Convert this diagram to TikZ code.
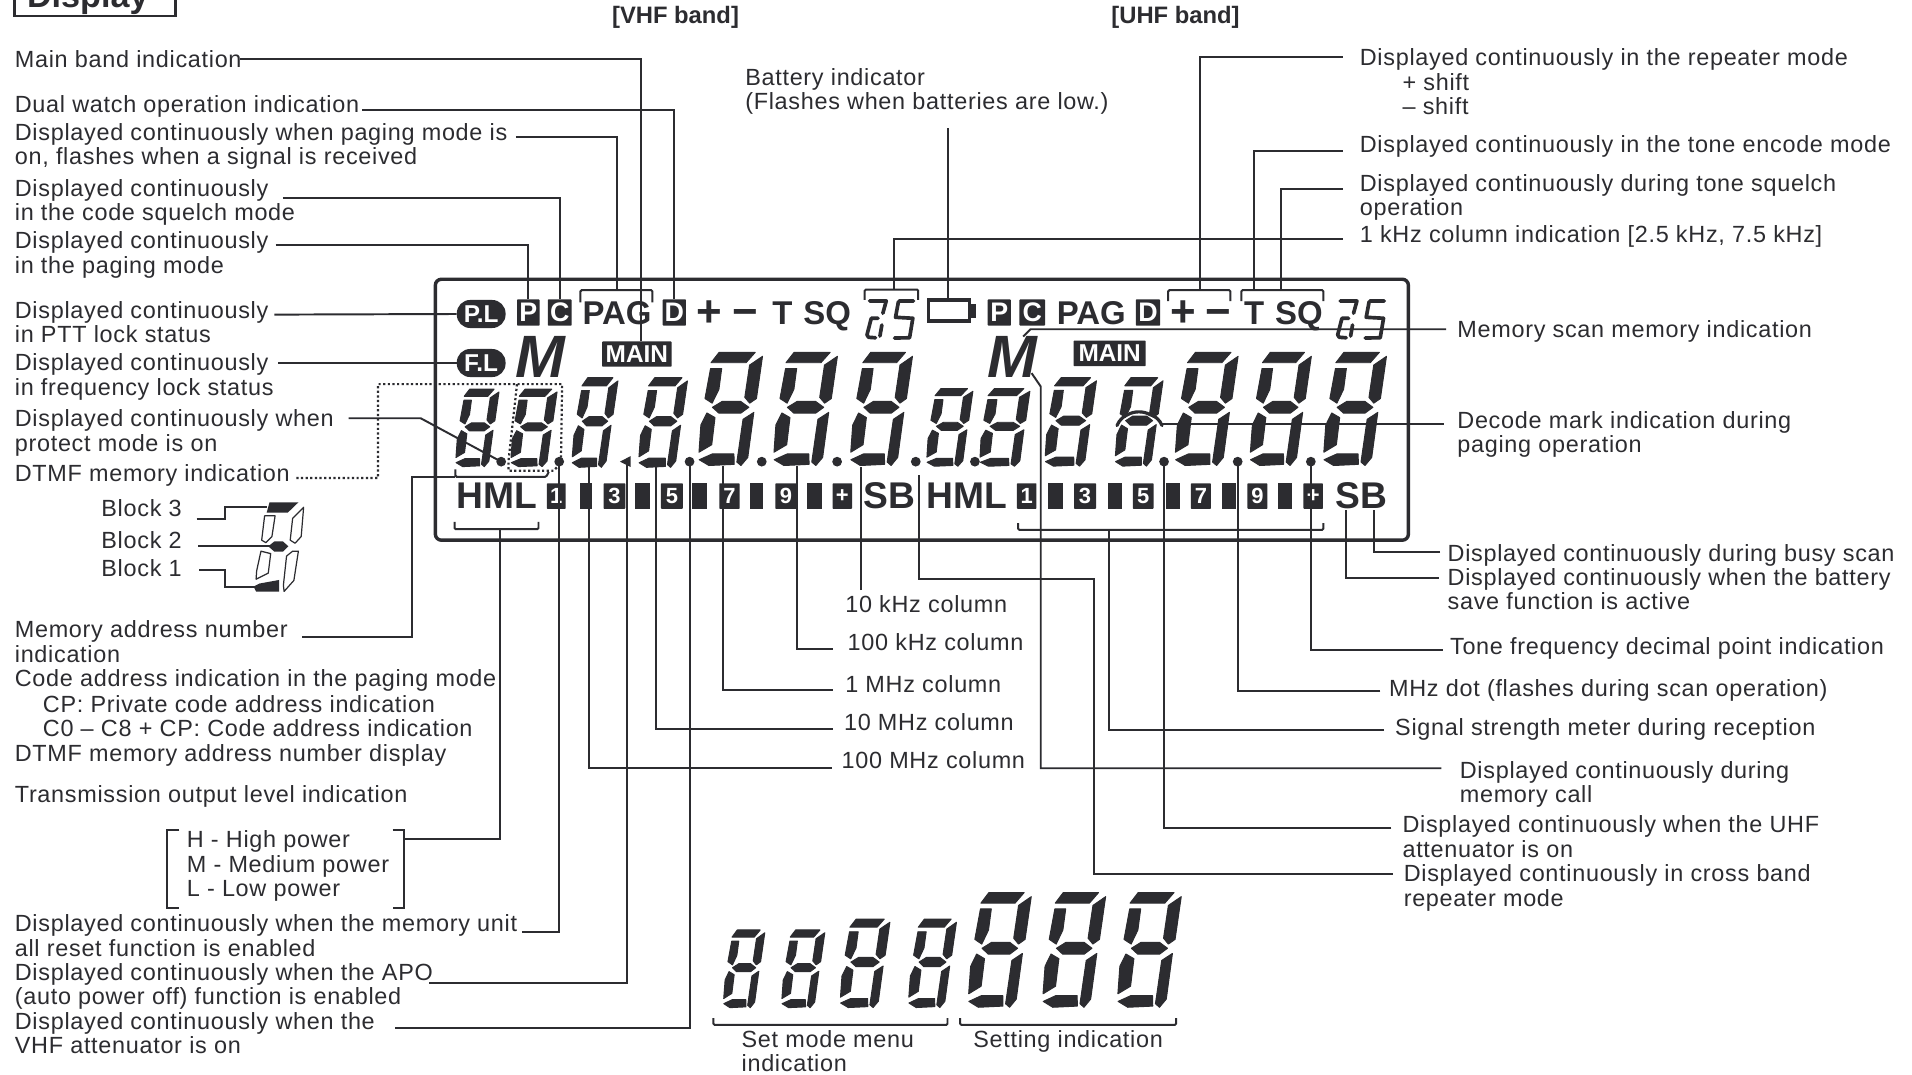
\documentclass[tikz,border=0pt]{standalone}
\usepackage{fontspec}
\setmainfont{Liberation Sans}[LetterSpace=3]
\newfontfamily\lcd[BoldFont={Liberation Sans Bold}]{Liberation Sans}
\newfontfamily\lcdm{Liberation Sans Bold Italic}
\definecolor{ink}{HTML}{2C2C30}
\newcommand\lblfont{\fontsize{19.2}{20}\selectfont}
\newcommand\lcdfont[1]{\lcd\bfseries\fontsize{#1}{#1}\selectfont}
\tikzset{
  lab/.style={anchor=north west,align=left,inner sep=0pt,yshift=7pt,font=\lblfont,text=ink},
  lead/.style={draw=ink,line width=1.6pt,line join=miter},
  brk/.style={draw=ink,line width=1.6pt,rounded corners=1pt},
  glyph/.style={inner sep=0pt,text=ink},
  row/.style={inner sep=0pt,text=ink,anchor=base},
  invbox/.style={fill=ink,text=white,inner sep=0pt,rounded corners=.6pt},
  blk/.style={fill=ink,draw=none},
}
% left, bottom, right, top
\newcommand\sevseg[4]{%
  \pgfmathsetmacro\dH{#2-#4}\pgfmathsetmacro\dS{.155*\dH}\pgfmathsetmacro\dW{#3-#1-\dS}%
  \begin{scope}[shift={(#1,#2)},x={(\dW pt,0pt)},y={(\dS pt,\dH pt)}]
    \filldraw[ink,line width=.8pt,line join=round]
      (.06,.99)--(.84,.99)--(.675,.90)--(-.08,.90)--cycle
      (1.01,.955)--(1.02,.59)--(.89,.55)--(.765,.6)--(.76,.88)--cycle
      (-.07,.85)--(.17,.85)--(.18,.67)--(.08,.55)--(-.09,.59)--cycle
      (.10,.514)--(.29,.565)--(.69,.565)--(.885,.514)--(.73,.463)--(.26,.463)--cycle
      (0,.465)--(.19,.425)--(.21,.19)--(-.04,.125)--(-.09,.36)--cycle
      (1.01,.47)--(.80,.41)--(.81,.04)--(.91,.01)--(1.03,.08)--cycle
      (-.01,.06)--(.25,.11)--(.72,.11)--(.76,.02)--(.22,.01)--cycle;
  \end{scope}}
% the 2.5 / 7.5 kHz glyph, x of left edge
\newcommand\twofive[1]{%
  \begin{scope}[shift={(#1,244.6)}]
    \draw[ink,line width=3pt,line join=round,line cap=round]
      (4.1,2.2)--(17.8,2.2)--(15,12.3)
      (5.5,16.4)--(11,16.4) (5.5,16.4)--(2,30)--(3.3,32)--(9,32.4) (14.2,21.9)--(12.6,31)
      (28.2,2.2)--(40.2,2.2) (27.8,2.7)--(25.4,15.6)--(39.6,16.4)--(36.9,32.4)--(24.6,32.6);
  \end{scope}}
\begin{document}
\begin{tikzpicture}[x=1pt,y=-1pt]
\useasboundingbox (0,0) rectangle (1568,881);
\fill[white] (0,0) rectangle (1568,881);

% ---- title
\draw[ink,line width=2pt] (12,-12) -- (12,13) -- (144,13) -- (144,-12);
\node[glyph,anchor=west,font=\lcdfont{28}] (title) at (22,-1) {Display};
\node[glyph,font=\lcdfont{19.5}] (vhf) at (554,14) {[VHF band]};
\node[glyph,font=\lcdfont{19.5}] (uhf) at (964,14) {[UHF band]};

% ---- LCD frame
\draw[ink,line width=2.8pt,rounded corners=5pt] (357,229) rectangle (1155,443);

% ---- digits
\sevseg{373.7}{383.3}{409.4}{318.5}
\sevseg{419}{383.3}{457}{318.5}
\sevseg{468.9}{384}{507}{309}
\sevseg{523.7}{384}{564}{309}
\sevseg{572.9}{382.7}{625.6}{288}
\sevseg{634.4}{382.7}{687}{288}
\sevseg{697.3}{382.7}{748.6}{288}
\sevseg{760}{383}{798}{318}
\sevseg{803.7}{383}{844.7}{318}
\sevseg{857}{383}{899.4}{309}
\sevseg{914.4}{383}{954}{309}
\sevseg{963.6}{382.7}{1015.6}{288}
\sevseg{1025}{382.7}{1075.7}{288}
\sevseg{1085.3}{382.7}{1137.3}{288}
% decimal points
\foreach \px in {411,458.6,565.5,624.7,686.5,751,799.5,954.6,1015,1075}
  \fill[ink] (\px,378.6) circle (4pt);
\fill[ink] (517.2,374) -- (517.2,383) -- (508.4,378.6) -- cycle;

% ---- top row VHF
\node[invbox,rounded corners=11pt,minimum width=40pt,minimum height=23pt,font=\lcdfont{20}] (pl) at (394.6,257.5) {P.L};
\node[invbox,rounded corners=11pt,minimum width=40pt,minimum height=23pt,font=\lcdfont{20}] (fl) at (394.6,297.7) {F.L};
\node[invbox,minimum width=18.5pt,minimum height=21.5pt,font=\lcdfont{22}] (p1) at (433.3,256.3) {P};
\node[invbox,minimum width=19.6pt,minimum height=21.5pt,font=\lcdfont{22}] (c1) at (459,256.3) {C};
\node[row,font=\lcdfont{27}] (pag1) at (506,266.5) {PAG};
\node[invbox,minimum width=19pt,minimum height=21.5pt,font=\lcdfont{22}] (d1) at (553,256.3) {D};
\node[row,font=\lcdfont{36}] (plus1) at (581.7,268) {+};
\node[row,font=\lcdfont{36}] (minus1) at (611,268) {−};
\node[row,font=\lcdfont{27}] (t1) at (641.7,266.5) {T};
\node[row,font=\lcdfont{27}] (sq1) at (678.3,266.5) {SQ};
\twofive{709}
\node[glyph,font=\lcdm\fontsize{49}{49}\selectfont,text height=35pt,text depth=0pt] (m1) at (443.5,292) {M};
\node[invbox,minimum width=57pt,minimum height=20.7pt,font=\lcdfont{20}] (main1) at (522.3,290.4) {MAIN};
% battery
\draw[ink,line width=3pt] (761.5,246.2) rectangle (795,263.5);
\fill[ink] (796.5,249) rectangle (800,260.5);

% ---- top row UHF
\node[invbox,minimum width=19pt,minimum height=21.5pt,font=\lcdfont{22}] (p2) at (819.5,256.3) {P};
\node[invbox,minimum width=21pt,minimum height=21.5pt,font=\lcdfont{22}] (c2) at (846.5,256.3) {C};
\node[row,font=\lcdfont{27}] (pag2) at (895,266.5) {PAG};
\node[invbox,minimum width=20pt,minimum height=21.5pt,font=\lcdfont{22}] (d2) at (941.4,256.3) {D};
\node[row,font=\lcdfont{36}] (plus2) at (970.2,268) {+};
\node[row,font=\lcdfont{36}] (minus2) at (999.5,268) {−};
\node[row,font=\lcdfont{27}] (t2) at (1028.5,266.5) {T};
\node[row,font=\lcdfont{27}] (sq2) at (1065.2,266.5) {SQ};
\twofive{1095}
\node[glyph,font=\lcdm\fontsize{49}{49}\selectfont,text height=35pt,text depth=0pt] (m2) at (830,292) {M};
\node[invbox,minimum width=59pt,minimum height=21pt,font=\lcdfont{20}] (main2) at (910,289.8) {MAIN};

% ---- bottom row VHF
\node[row,font=\lcdfont{30.5}] (hml1) at (407.5,417.3) {HML};
\foreach \n/\cx/\w/\t in {a/456.2/15.5/1,b/503.9/17.8/3,c/551/18/5,d/598.2/16.7/7,e/644.6/17.6/9,f/690.8/16/+}
  \node[invbox,minimum width=\w pt,minimum height=21pt,font=\lcdfont{18}] (lv\n) at (\cx,406.8) {\t};
\foreach \lx/\rx in {475.3/485.6,521/533,567.6/580,615.3/626,662/673.9}
  \fill[blk] (\lx,396.3) rectangle (\rx,417.2);
\node[row,font=\lcdfont{30.5}] (sb1) at (729.5,417.3) {SB};
% ---- bottom row UHF
\node[row,font=\lcdfont{30.5}] (hml2) at (793,417.3) {HML};
\foreach \n/\cx/\w/\t in {a/842/16/1,b/889.8/18/3,c/937.5/17/5,d/984.8/16.5/7,e/1031.2/16.4/9,f/1076.9/16/+}
  \node[invbox,minimum width=\w pt,minimum height=21pt,font=\lcdfont{18}] (lu\n) at (\cx,406.8) {\t};
\foreach \lx/\rx in {859.8/871.5,908.4/920,956/967.7,1002/1013.7,1048.4/1059.3}
  \fill[blk] (\lx,396.3) rectangle (\rx,417.2);
\node[row,font=\lcdfont{30.5}] (sb2) at (1116.5,417.3) {SB};

% ---- brackets in the LCD
\draw[brk] (476,248) |- (535,238) -- (535,248);
\draw[brk] (709,246) |- (753,237.5) -- (753,246);
\draw[brk] (958,247) |- (1009,238) -- (1009,247);
\draw[brk] (1018,247) |- (1085.3,238) -- (1085.3,247);
\draw[brk] (373.5,385) |- (448,391) -- (450,387);
\draw[brk] (372.8,428) |- (441.6,434) -- (441.6,428);
\draw[brk] (835,429) |- (1085.3,434.5) -- (1085.3,429);
% dotted box of the DTMF digit
\coordinate (dtmfS) at (243,392);
\draw[ink,line width=1.8pt,dotted] (dtmfS) -- (310,392) -- (310,315) -- (461,315) -- (460,380) -- (454,386) -- (417,386) -- (417,378) -- (424,315);
% decode mark
\draw[ink,line width=2.6pt,line cap=round] (916,349) .. controls (918,344) and (922,341) .. (925,340) .. controls (930,337) and (938,337) .. (943,340) .. controls (947,341) and (951,344) .. (953,349);

% ---- left labels
\node[lab] (lmain) at (12,48) {Main band indication};
\node[lab] (ldual) at (12,85.5) {Dual watch operation indication};
\node[lab] (lpag) at (12,108) {Displayed continuously when paging mode is\\on, flashes when a signal is received};
\node[lab] (lcode) at (12,154) {Displayed continuously\\in the code squelch mode};
\node[lab] (lpmode) at (12,197) {Displayed continuously\\in the paging mode};
\node[lab] (lptt) at (12,254) {Displayed continuously\\in PTT lock status};
\node[lab] (lfreq) at (12,297) {Displayed continuously\\in frequency lock status};
\node[lab] (lprot) at (12,343) {Displayed continuously when\\protect mode is on};
\node[lab] (ldtmf) at (12,388) {DTMF memory indication};
\node[lab] (lb3) at (83,416.5) {Block 3};
\node[lab] (lb2) at (83,442.5) {Block 2};
\node[lab] (lb1) at (83,465.5) {Block 1};
\node[lab] (lmem) at (12,516) {Memory address number\\indication};
\node[lab] (lcaddr) at (12,556) {Code address indication in the paging mode};
\node[lab] (lcp) at (35,577) {CP: Private code address indication};
\node[lab] (lc0) at (35,597) {C0 – C8 + CP: Code address indication};
\node[lab] (ldaddr) at (12,617) {DTMF memory address number display};
\node[lab] (ltx) at (12,651) {Transmission output level indication};
\node[lab] (lhml) at (153,688) {H - High power\\M - Medium power\\L - Low power};
\node[lab] (lreset) at (12,757) {Displayed continuously when the memory unit\\all reset function is enabled};
\node[lab] (lapo) at (12,797) {Displayed continuously when the APO\\(auto power off) function is enabled};
\node[lab] (lvatt) at (12,837) {Displayed continuously when the\\VHF attenuator is on};

% ---- centre labels
\node[lab] (lbat) at (611,63) {Battery indicator\\(Flashes when batteries are low.)};
\node[lab] (l10k) at (693,495) {10 kHz column};
\node[lab] (l100k) at (695,526) {100 kHz column};
\node[lab] (l1m) at (693,561) {1 MHz column};
\node[lab] (l10m) at (692,592) {10 MHz column};
\node[lab] (l100m) at (690,623) {100 MHz column};

% ---- right labels
\node[lab] (lrep) at (1115,47) {Displayed continuously in the repeater mode};
\node[lab] (lplus) at (1150,67) {+ shift};
\node[lab] (lminus) at (1150,87) {– shift};
\node[lab] (lenc) at (1115,118) {Displayed continuously in the tone encode mode};
\node[lab] (ltsq) at (1115,150) {Displayed continuously during tone squelch\\operation};
\node[lab] (l1k) at (1115,192) {1 kHz column indication [2.5 kHz, 7.5 kHz]};
\node[lab] (lscan) at (1195,270) {Memory scan memory indication};
\node[lab] (ldec) at (1195,344) {Decode mark indication during\\paging operation};
\node[lab] (lbusy) at (1187,453) {Displayed continuously during busy scan};
\node[lab] (lsave) at (1187,473) {Displayed continuously when the battery\\save function is active};
\node[lab] (ltone) at (1189,530) {Tone frequency decimal point indication};
\node[lab] (lmhz) at (1139,564) {MHz dot (flashes during scan operation)};
\node[lab] (lsig) at (1144,596) {Signal strength meter during reception};
\node[lab] (lcall) at (1197,631) {Displayed continuously during\\memory call};
\node[lab] (luatt) at (1150,676) {Displayed continuously when the UHF\\attenuator is on};
\node[lab] (lcross) at (1151,716) {Displayed continuously in cross band\\repeater mode};

% ---- bottom display
\sevseg{593.2}{827}{627.4}{762}
\sevseg{641}{827}{676.6}{762}
\sevseg{689}{827}{730}{753}
\sevseg{745}{827}{784.6}{753}
\sevseg{794}{827}{846}{731}
\sevseg{855}{827}{907}{731}
\sevseg{916.4}{827}{969}{731}
\draw[brk] (585,835) |- (777,840.5) -- (777,835);
\draw[brk] (787.4,835) |- (964.5,840.5) -- (964.5,835);
\node[lab] (lset) at (608,852) {Set mode menu\\indication};
\node[lab] (lsetting) at (798,852) {Setting indication};

% ---- block figure
\fill[ink] (221,412) -- (244.7,412) -- (236,420.4) -- (218.7,420.4) -- cycle;
\fill[ink] (220,448) -- (225,444) -- (232,444) -- (236.5,448) -- (232,452.4) -- (225,452.4) -- cycle;
\fill[ink] (208,481) -- (213,478.5) -- (229,475.6) -- (229,485.2) -- (210,485.2) -- cycle;
\draw[ink,line width=1pt,line join=round] (217,423) -- (225.6,423) -- (223,440) -- (218,445) -- (214.6,443) -- cycle
  (249,416) -- (247,440) -- (242,445.5) -- (238,443) -- (240,425) -- cycle
  (214,452) -- (222,454) -- (220,470) -- (210,475) -- (210.5,468) -- cycle
  (240,452) -- (244.7,452) -- (241,476) -- (233,485) -- (232.4,480) -- (235,456) -- cycle;
\coordinate (b3a) at (161.3,425.6);\coordinate (b3b) at (219,415.5);
\coordinate (b2a) at (162.7,447.7);\coordinate (b2b) at (221.5,447.7);
\coordinate (b1a) at (163.2,467.4);\coordinate (b1b) at (210.5,481);
\draw[lead] (b3a) -- (184.5,425.6) -- (184.5,415.5) -- (b3b);
\draw[lead] (b2a) -- (b2b);
\draw[lead] (b1a) -- (184.5,467.4) -- (184.5,481) -- (b1b);
\draw[brk,rounded corners=0pt] (147,681) -- (137,681) -- (137,745) -- (147,745);
\draw[brk,rounded corners=0pt] (322,681) -- (331,681) -- (331,745) -- (322,745);

% ---- connectors
\coordinate (a1) at (197,48);    \coordinate (e1) at (525.5,280);
\draw[lead] (a1) -| (e1);
\coordinate (a2) at (297,90);
\draw[lead] (a2) -| (d1.north);
\coordinate (a3) at (423,112);   \coordinate (e3) at (506,238);
\draw[lead] (a3) -| (e3);
\coordinate (a4) at (232,162);
\draw[lead] (a4) -| (c1.north);
\coordinate (a5) at (226,201);
\draw[lead] (a5) -| (p1.north);
\coordinate (a6) at (225,258);
\draw[lead] (a6) -- (pl.west);
\coordinate (a7) at (228,297.7);
\draw[lead] (a7) -- (fl.west);
\coordinate (a8) at (286,343);   \coordinate (e8) at (411,378.6);
\draw[lead] (a8) -- (345,343) -- (e8);
\coordinate (a9) at (248,522);   \coordinate (e9) at (373.5,391);
\draw[lead] (a9) -| (338,391) -- (e9);
\coordinate (a10) at (331,688);  \coordinate (e10) at (409.8,434);
\draw[lead] (a10) -| (e10);
\coordinate (a11) at (428,764);  \coordinate (e11) at (458.6,378.6);
\draw[lead] (a11) -| (e11);
\coordinate (a12) at (352,806);  \coordinate (e12) at (513.8,380);
\draw[lead] (a12) -| (e12);
\coordinate (a13) at (324,843);  \coordinate (e13) at (565.5,378.6);
\draw[lead] (a13) -| (e13);
\coordinate (a14) at (706,484);  \coordinate (e14) at (706,383);
\draw[lead] (a14) -- (e14);
\coordinate (a15) at (683,532);  \coordinate (e15) at (653.6,382);
\draw[lead] (a15) -| (e15);
\coordinate (a16) at (683,566);  \coordinate (e16) at (593,382);
\draw[lead] (a16) -| (e16);
\coordinate (a17) at (683,598);  \coordinate (e17) at (538,383);
\draw[lead] (a17) -| (e17);
\coordinate (a18) at (682,630);  \coordinate (e18) at (483,383);
\draw[lead] (a18) -| (e18);
\coordinate (a19) at (1182,630); \coordinate (e19) at (846,306);
\draw[lead] (a19) -- (853.5,630) -- (853.5,317) -- (e19);
\coordinate (a20) at (1141,679); \coordinate (e20) at (954.6,378.6);
\draw[lead] (a20) -| (e20);
\coordinate (a21) at (1142,717); \coordinate (e21) at (753.5,389.5);
\draw[lead] (a21) -- (897,717) -- (897,475) -- (753.5,475) -- (e21);
\coordinate (a22) at (1135,599); \coordinate (e22) at (909.6,434.5);
\draw[lead] (a22) -| (e22);
\coordinate (a23) at (1132,567); \coordinate (e23) at (1015,378.6);
\draw[lead] (a23) -| (e23);
\coordinate (a24) at (1183,533); \coordinate (e24) at (1075,378.6);
\draw[lead] (a24) -| (e24);
\coordinate (a25) at (1180,474); \coordinate (e25) at (1104,418);
\draw[lead] (a25) -| (e25);
\coordinate (a26) at (1181,453); \coordinate (e26) at (1127,418);
\draw[lead] (a26) -| (e26);
\coordinate (a27) at (1186,270); \coordinate (e27) at (839,276);
\draw[lead] (a27) -- (845,270) -- (e27);
\coordinate (a28) at (1184,348); \coordinate (e28) at (953,348);
\draw[lead] (a28) -- (e28);
\coordinate (a29) at (1101,47);  \coordinate (e29) at (984,238);
\draw[lead] (a29) -| (e29);
\coordinate (a30) at (1101,124); \coordinate (e30) at (1028.4,238);
\draw[lead] (a30) -| (e30);
\coordinate (a31) at (1101,155); \coordinate (e31) at (1050.6,238);
\draw[lead] (a31) -| (e31);
\coordinate (a32) at (1101,196); \coordinate (e32) at (733.4,237.5);
\draw[lead] (a32) -| (e32);
\coordinate (a33) at (777.7,105); \coordinate (e33) at (777.7,245);
\draw[lead] (a33) -- (e33);
\end{tikzpicture}
\end{document}
